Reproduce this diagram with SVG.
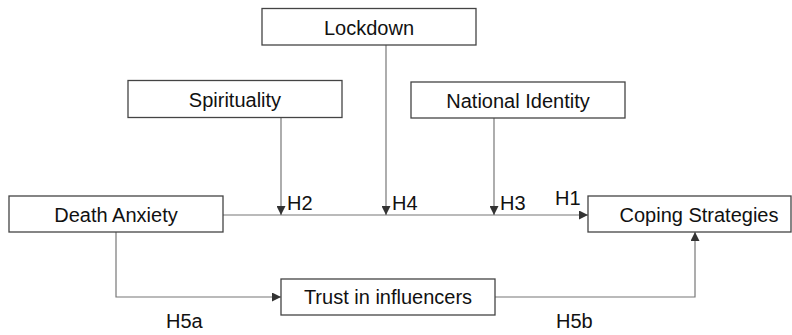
<svg xmlns="http://www.w3.org/2000/svg" width="792" height="335" viewBox="0 0 792 335">
<style>
.box{fill:#fff;stroke:#444;stroke-width:1.3}
.t{font-family:"Liberation Sans",Arial,sans-serif;font-size:20px;fill:#111;text-anchor:middle}
.l{font-family:"Liberation Sans",Arial,sans-serif;font-size:20px;fill:#111}
.c{fill:none;stroke:#777;stroke-width:1.2}
</style>
<defs>
<marker id="ah" viewBox="0 0 10 10" refX="10" refY="5" markerWidth="9" markerHeight="9" markerUnits="userSpaceOnUse" orient="auto">
<path d="M0,0 L10,5 L0,10 z" fill="#333"/>
</marker>
</defs>
<g id="connectors">
<line class="c" x1="223" y1="215" x2="588" y2="215" marker-end="url(#ah)"/>
<line class="c" x1="281" y1="117" x2="281" y2="215" marker-end="url(#ah)"/>
<line class="c" x1="386" y1="45" x2="386" y2="215" marker-end="url(#ah)"/>
<line class="c" x1="494" y1="118" x2="494" y2="215" marker-end="url(#ah)"/>
<polyline class="c" points="116,232 116,297 281,297" marker-end="url(#ah)"/>
<polyline class="c" points="495,297 695,297 695,232" marker-end="url(#ah)"/>
<text class="l" x="287" y="210">H2</text>
<text class="l" x="392" y="210">H4</text>
<text class="l" x="500" y="210">H3</text>
<text class="l" x="555" y="205">H1</text>
<text class="l" x="166" y="328">H5a</text>
<text class="l" x="556" y="328">H5b</text>
</g>
<g id="lockdown"><rect class="box" x="262" y="8.5" width="214" height="36.5"/><text class="t" x="369" y="35">Lockdown</text></g>
<g id="spirituality"><rect class="box" x="128" y="80.5" width="214" height="37"/><text class="t" x="235" y="107">Spirituality</text></g>
<g id="national-identity"><rect class="box" x="411" y="82" width="214" height="36"/><text class="t" x="518" y="108">National Identity</text></g>
<g id="death-anxiety"><rect class="box" x="9" y="196" width="214" height="36"/><text class="t" x="116" y="222">Death Anxiety</text></g>
<g id="coping-strategies"><rect class="box" x="588" y="196" width="203" height="36"/><text class="t" x="699" y="222">Coping Strategies</text></g>
<g id="trust-in-influencers"><rect class="box" x="281" y="279" width="214" height="36"/><text class="t" x="388" y="304">Trust in influencers</text></g>
</svg>
